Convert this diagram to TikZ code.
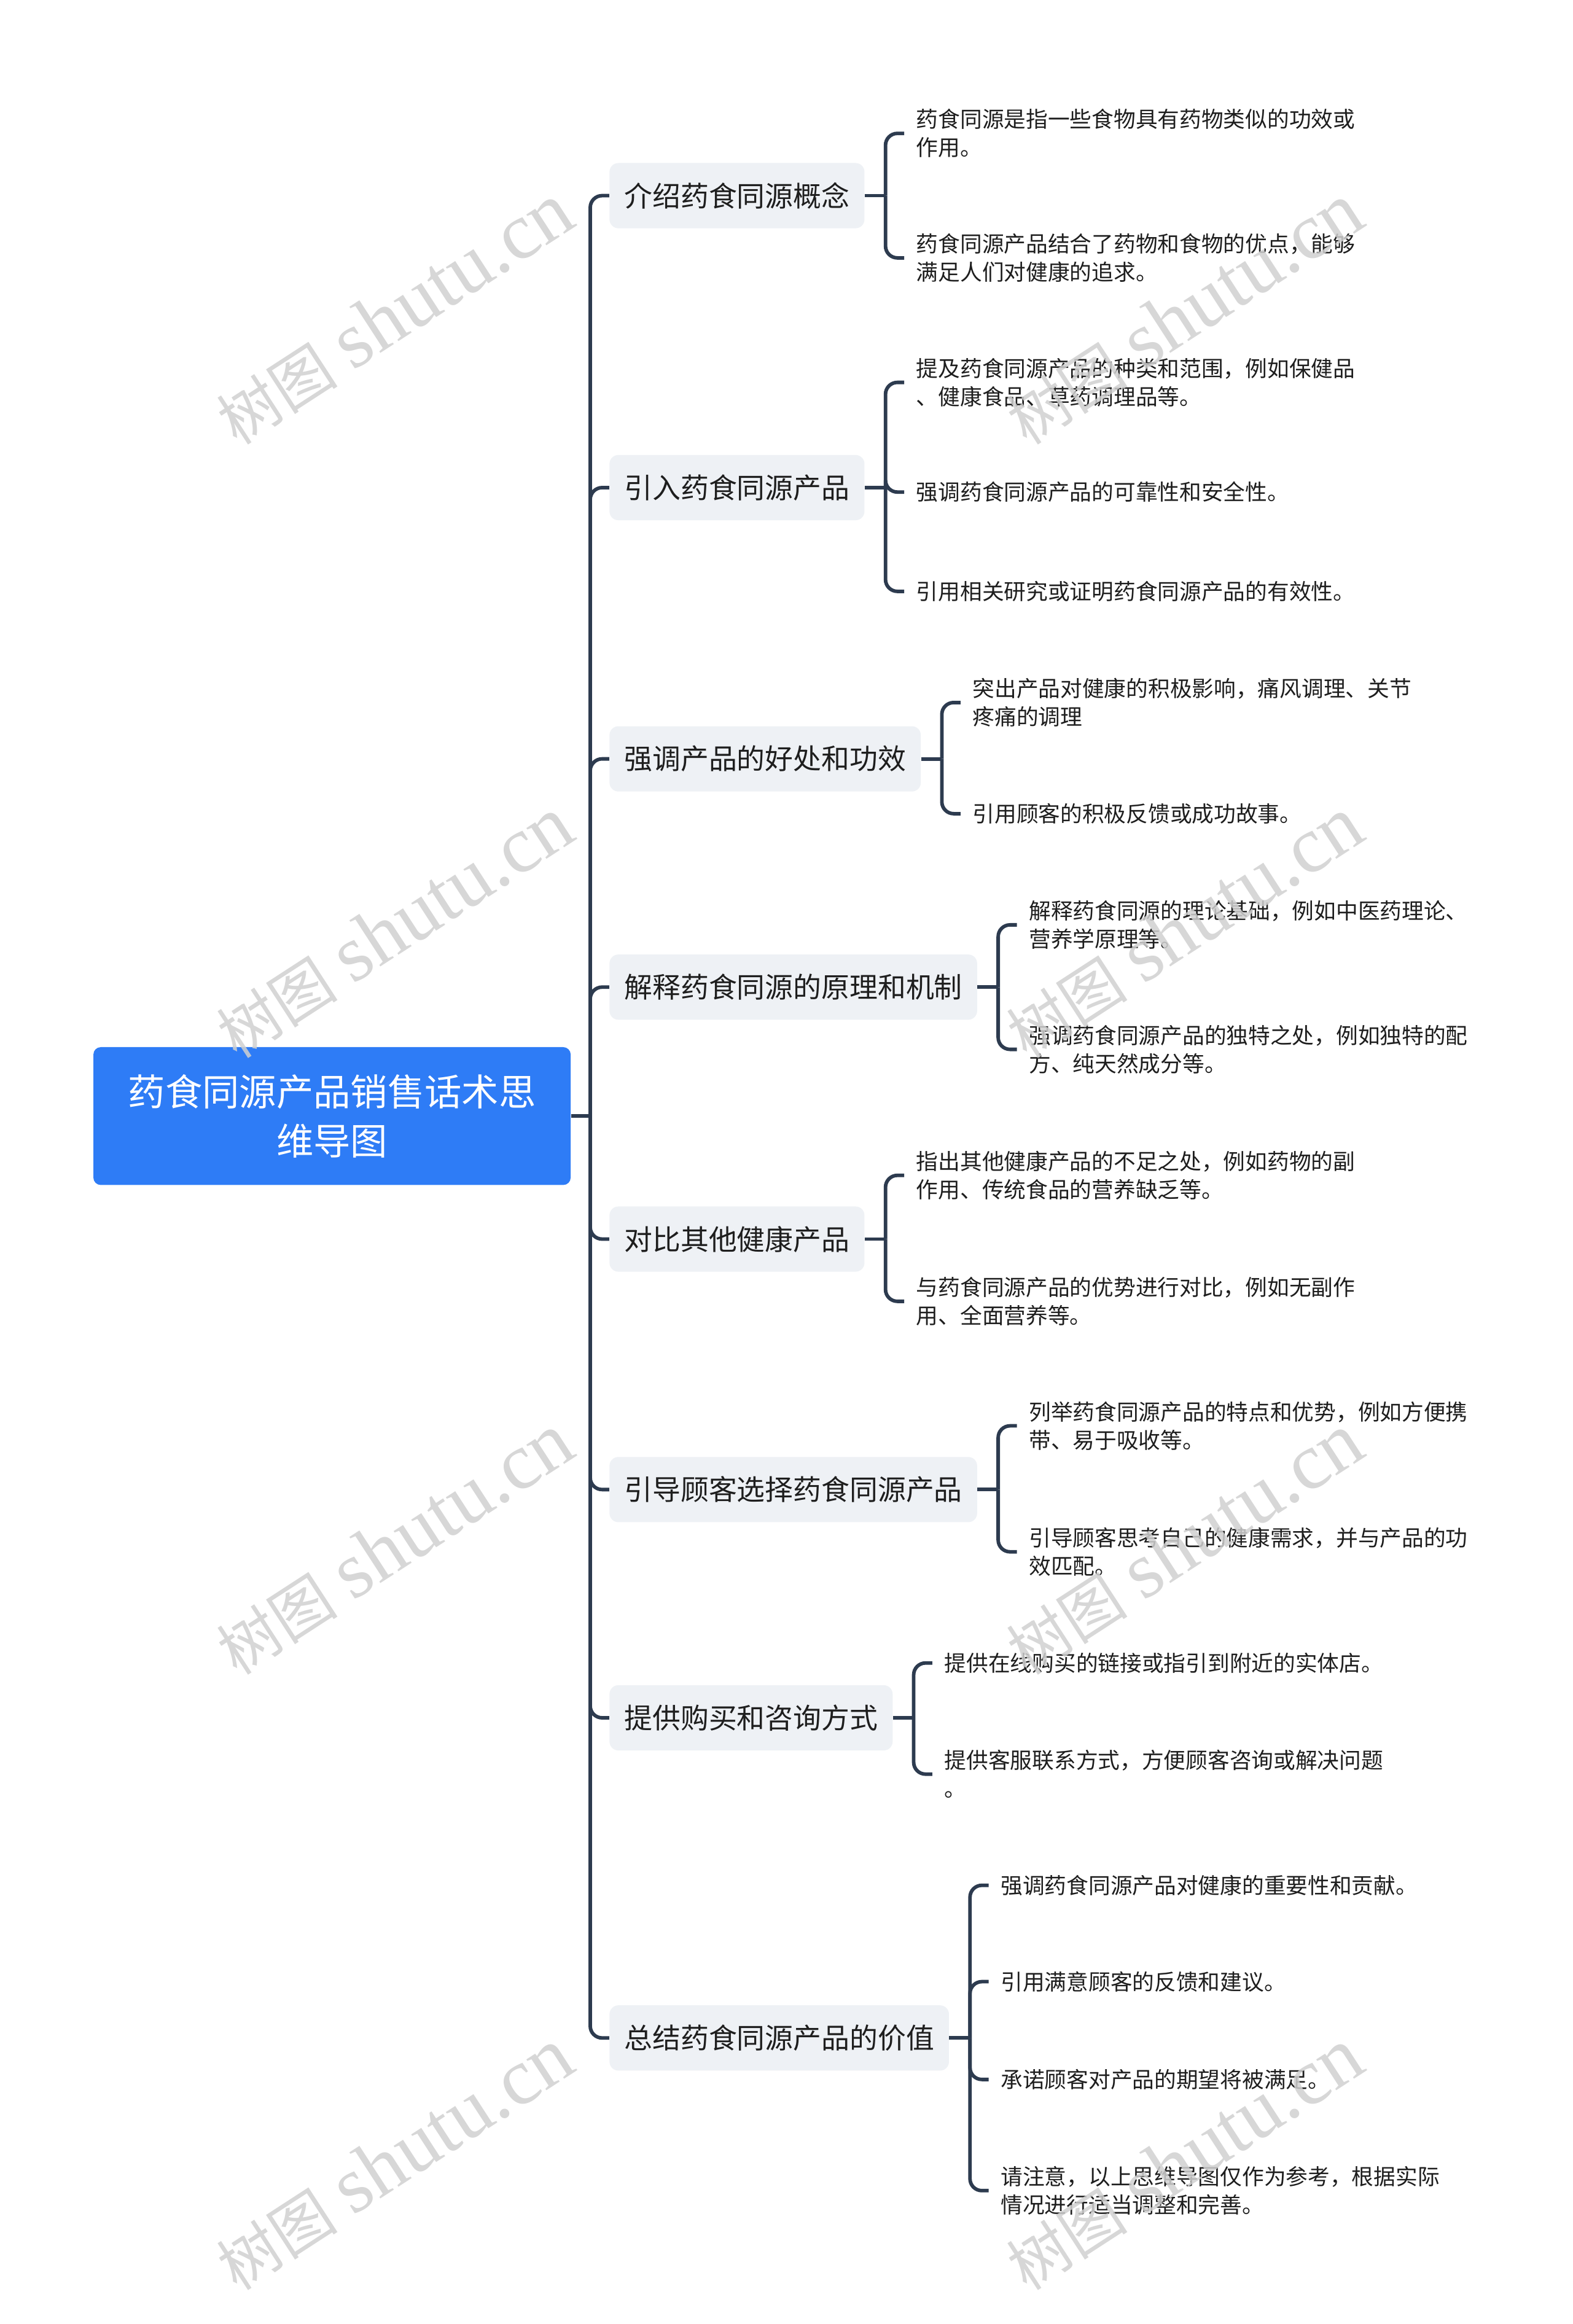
\documentclass[tikz,border=0pt]{standalone}
\usepackage{fontspec}
\setmainfont{Noto Sans CJK SC}
\newfontfamily\wmcjk{Noto Sans CJK SC}
\newfontfamily\wmlat{Liberation Serif}
\usetikzlibrary{calc}
\definecolor{rootblue}{RGB}{46,124,246}
\definecolor{branchfill}{RGB}{238,241,245}
\definecolor{linecol}{RGB}{45,59,79}
\definecolor{txt}{RGB}{30,30,30}
\definecolor{wm}{RGB}{208,208,208}
\begin{document}
\begin{tikzpicture}[x=1pt,y=-1pt,
  rootnode/.style={fill=rootblue, rounded corners=5pt, minimum width=322pt, minimum height=93pt, text=white, align=center, font=\fontsize{25}{33}\selectfont, inner sep=0pt},
  branchnode/.style={fill=branchfill, rounded corners=6pt, minimum height=44pt, inner xsep=10pt, inner ysep=0pt, anchor=west, text=txt, font=\fontsize{19}{23}\selectfont},
  leafnode/.style={anchor=west, align=left, inner xsep=8pt, inner ysep=2pt, text=txt, font=\fontsize{14.8}{19}\selectfont},
  conn/.style={draw=linecol, line width=2.4pt, rounded corners=8pt},
  wmark/.style={text=wm, rotate=33, inner sep=0pt, opacity=0.85}
]
\fill[white] (0,0) rectangle (1061,1568);
\useasboundingbox (0,0) rectangle (1061,1568);

% root
\node[rootnode] (root) at (224,753) {药食同源产品销售话术思\\维导图};

% branches
\node[branchnode] (b1) at (411,132) {介绍药食同源概念};
\node[branchnode] (b2) at (411,329) {引入药食同源产品};
\node[branchnode] (b3) at (411,512) {强调产品的好处和功效};
\node[branchnode] (b4) at (411,666) {解释药食同源的原理和机制};
\node[branchnode] (b5) at (411,836) {对比其他健康产品};
\node[branchnode] (b6) at (411,1005) {引导顾客选择药食同源产品};
\node[branchnode] (b7) at (411,1159) {提供购买和咨询方式};
\node[branchnode] (b8) at (411,1375) {总结药食同源产品的价值};

% leaves
\node[leafnode] (l11) at (610,90) {药食同源是指一些食物具有药物类似的功效或\\作用。};
\node[leafnode] (l12) at (610,174) {药食同源产品结合了药物和食物的优点，能够\\满足人们对健康的追求。};

\node[leafnode] (l21) at (610,258) {提及药食同源产品的种类和范围，例如保健品\\、健康食品、草药调理品等。};
\node[leafnode] (l22) at (610,332) {强调药食同源产品的可靠性和安全性。};
\node[leafnode] (l23) at (610,399) {引用相关研究或证明药食同源产品的有效性。};

\node[leafnode] (l31) at (648,474) {突出产品对健康的积极影响，痛风调理、关节\\疼痛的调理};
\node[leafnode] (l32) at (648,549) {引用顾客的积极反馈或成功故事。};

\node[leafnode] (l41) at (686,624) {解释药食同源的理论基础，例如中医药理论、\\营养学原理等。};
\node[leafnode] (l42) at (686,708) {强调药食同源产品的独特之处，例如独特的配\\方、纯天然成分等。};

\node[leafnode] (l51) at (610,793) {指出其他健康产品的不足之处，例如药物的副\\作用、传统食品的营养缺乏等。};
\node[leafnode] (l52) at (610,878) {与药食同源产品的优势进行对比，例如无副作\\用、全面营养等。};

\node[leafnode] (l61) at (686,962) {列举药食同源产品的特点和优势，例如方便携\\带、易于吸收等。};
\node[leafnode] (l62) at (686,1047) {引导顾客思考自己的健康需求，并与产品的功\\效匹配。};

\node[leafnode] (l71) at (629,1122) {提供在线购买的链接或指引到附近的实体店。};
\node[leafnode] (l72) at (629,1197) {提供客服联系方式，方便顾客咨询或解决问题\\。};

\node[leafnode] (l81) at (667,1272) {强调药食同源产品对健康的重要性和贡献。};
\node[leafnode] (l82) at (667,1337) {引用满意顾客的反馈和建议。};
\node[leafnode] (l83) at (667,1403) {承诺顾客对产品的期望将被满足。};
\node[leafnode] (l84) at (667,1478) {请注意，以上思维导图仅作为参考，根据实际\\情况进行适当调整和完善。};

% trunk connectors
\coordinate (j) at ($(root.east)+(13,0)$);
\draw[conn] (root.east) -- (j);
\foreach \b in {b1,b2,b3,b4,b5,b6,b7,b8} \draw[conn] (j) |- (\b.west);

% leaf connectors
\coordinate (k1) at ($(b1.east)+(14,0)$);
\draw[conn] (b1.east) -- (k1);
\foreach \l in {l11,l12} \draw[conn] (k1) |- (\l.west);

\coordinate (k2) at ($(b2.east)+(14,0)$);
\draw[conn] (b2.east) -- (k2);
\foreach \l in {l21,l23} \draw[conn] (k2) |- (\l.west);
\draw[conn] (k2) -- (l22.west -| k2) -- (l22.west);

\coordinate (k3) at ($(b3.east)+(14,0)$);
\draw[conn] (b3.east) -- (k3);
\foreach \l in {l31,l32} \draw[conn] (k3) |- (\l.west);

\coordinate (k4) at ($(b4.east)+(14,0)$);
\draw[conn] (b4.east) -- (k4);
\foreach \l in {l41,l42} \draw[conn] (k4) |- (\l.west);

\coordinate (k5) at ($(b5.east)+(14,0)$);
\draw[conn] (b5.east) -- (k5);
\foreach \l in {l51,l52} \draw[conn] (k5) |- (\l.west);

\coordinate (k6) at ($(b6.east)+(14,0)$);
\draw[conn] (b6.east) -- (k6);
\foreach \l in {l61,l62} \draw[conn] (k6) |- (\l.west);

\coordinate (k7) at ($(b7.east)+(14,0)$);
\draw[conn] (b7.east) -- (k7);
\foreach \l in {l71,l72} \draw[conn] (k7) |- (\l.west);

\coordinate (k8) at ($(b8.east)+(14,0)$);
\draw[conn] (b8.east) -- (k8);
\foreach \l in {l81,l82,l83,l84} \draw[conn] (k8) |- (\l.west);

% watermarks
\foreach \n/\wx/\wy in {w1/266/212, w2/266/626, w3/266/1042, w4/266/1457, w5/799/212, w6/799/626, w7/799/1042, w8/799/1457}
  \node[wmark] (\n) at (\wx,\wy) {{\wmcjk\fontsize{41}{41}\selectfont 树图}\hspace{11pt}{\wmlat\fontsize{54}{54}\selectfont shutu.cn}};
\end{tikzpicture}
\end{document}
